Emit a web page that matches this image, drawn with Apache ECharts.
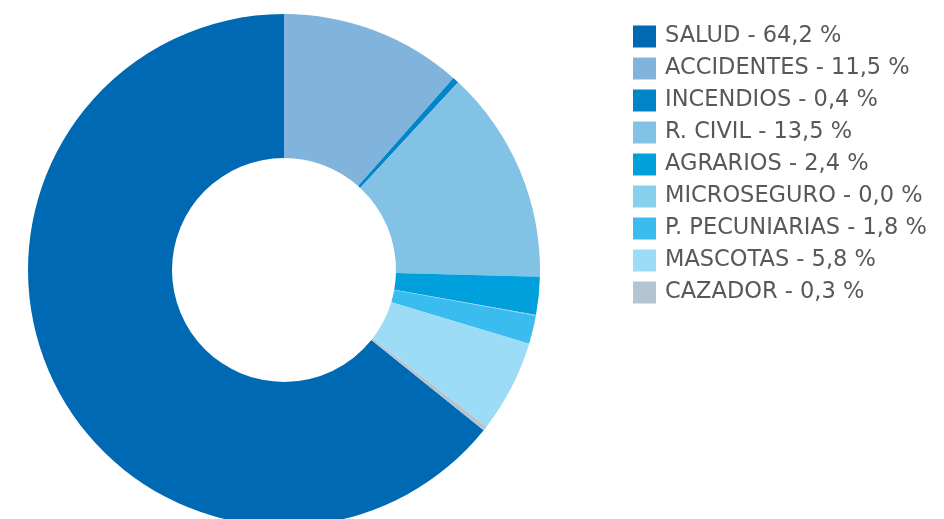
<!DOCTYPE html>
<html><head><meta charset="utf-8">
<script src="https://cdn.jsdelivr.net/npm/echarts@6/dist/echarts.min.js"></script>
<style>html,body{margin:0;padding:0;background:#fff}#c{width:944px;height:519px}</style>
</head><body><div id="c"></div>
<script>
const categories = ['SALUD','ACCIDENTES','INCENDIOS','R. CIVIL','AGRARIOS','MICROSEGURO','P. PECUNIARIAS','MASCOTAS','CAZADOR'];
const values = [64.2, 11.5, 0.4, 13.5, 2.4, 0.04, 1.8, 5.8, 0.3];
const colors = ['#0069b4','#80b4dc','#0085c8','#82c2e5','#00a0dc','#87d0ee','#3bbcee','#9cdcf6','#b4c5d2'];
const total = values.reduce((a,b)=>a+b,0);
const chart = echarts.init(document.getElementById('c'));
chart.setOption({
  animation:false,
  legend:{
    orient:'vertical', left:628, top:20, itemWidth:23, itemHeight:22, itemGap:9,
    icon:'rect',
    textStyle:{fontFamily:'DejaVu Sans', fontSize:22.5, color:'#585858', padding:[5,0,0,4]},
    formatter:function(name){const i=categories.indexOf(name);return name+' - '+values[i].toFixed(1).replace('.',',')+' %';},
    selectedMode:false
  },
  series:[{
    type:'pie', center:[284,270], radius:[112,256],
    startAngle: 90 + values[0]/total*360,
    clockwise:true, label:{show:false}, labelLine:{show:false},
    emphasis:{disabled:true}, minAngle:0, avoidLabelOverlap:false,
    itemStyle:{borderWidth:0},
    data: categories.map((c,i)=>({name:c,value:values[i],itemStyle:{color:colors[i]}}))
  }]
});
</script></body></html>
